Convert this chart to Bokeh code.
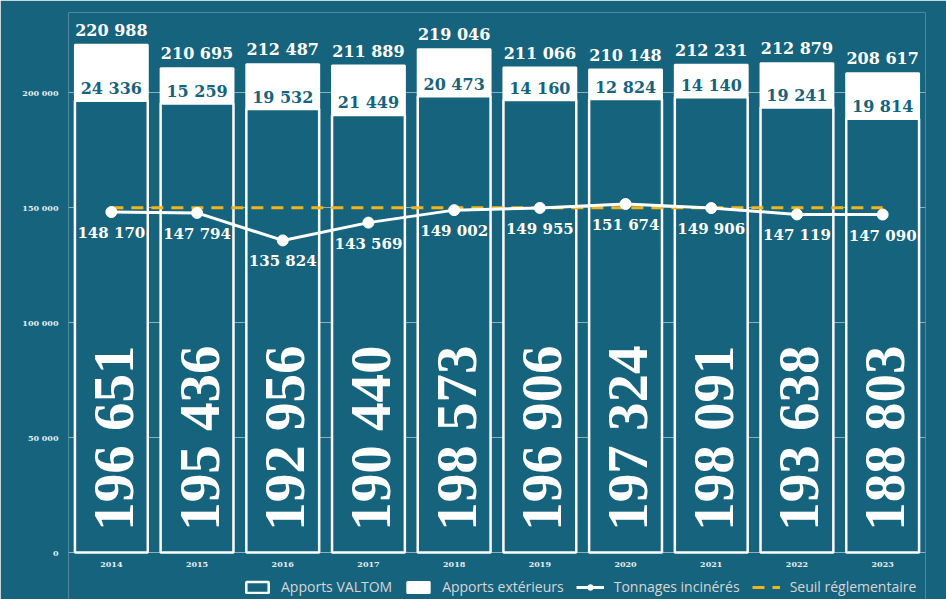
import math
from bokeh.plotting import figure
from bokeh.models import (FactorRange, Range1d, ColumnDataSource, FixedTicker,
                          CustomJSTickFormatter, Legend, LegendItem)
from bokeh.core.properties import value
from bokeh.embed import file_html
from bokeh.resources import INLINE

years = ["2014", "2015", "2016", "2017", "2018", "2019", "2020", "2021", "2022", "2023"]
apports_valtom = [196651, 195436, 192956, 190440, 198573, 196906, 197324, 198091, 193638, 188803]
apports_ext = [24336, 15259, 19532, 21449, 20473, 14160, 12824, 14140, 19241, 19814]
totaux = [220988, 210695, 212487, 211889, 219046, 211066, 210148, 212231, 212879, 208617]
tonnages_incineres = [148170, 147794, 135824, 143569, 149002, 149955, 151674, 149906, 147119, 147090]
seuil = 150000
y_ticks = [0, 50000, 100000, 150000, 200000]

TEAL = "#16637D"
ORANGE = "#F4B418"
SERIF = value("DejaVu Serif")
BIG_SERIF = value("Liberation Serif")


def fmt(v):
    return f"{v:,}".replace(",", " ")


src = ColumnDataSource(dict(
    year=years,
    valtom=apports_valtom,
    ext=apports_ext,
    total=totaux,
    top=[a + b for a, b in zip(apports_valtom, apports_ext)],
    incin=tonnages_incineres,
    seuil=[seuil] * len(years),
    valtom_lbl=[fmt(v) for v in apports_valtom],
    ext_lbl=[fmt(v) for v in apports_ext],
    total_lbl=[fmt(v) for v in totaux],
    incin_lbl=[fmt(v) for v in tonnages_incineres],
    base=[0] * len(years),
))

# frame spans down to the bottom of the figure; 0 sits 47px above the bottom
p = figure(frame_width=857, frame_height=587, x_range=FactorRange(*years, range_padding=0),
           y_range=Range1d(-20435, 235000), output_backend="svg", toolbar_location=None,
           background_fill_color=TEAL, border_fill_color=TEAL,
           min_border_left=68, min_border_right=21, min_border_top=12, min_border_bottom=0)
p.outline_line_color = None

# bars
r_ext = p.vbar(x="year", bottom="valtom", top="top", width=0.85, source=src,
               fill_color="white", line_color="white", line_width=2)
r_val = p.vbar(x="year", bottom="base", top="valtom", width=0.85, source=src,
               fill_color=TEAL, line_color="white", line_width=2.5)

# labels
p.text(x="year", y="total", text="total_lbl", source=src, text_align="center",
       text_baseline="bottom", y_offset=-5, text_font=SERIF, text_font_style="bold",
       text_font_size="16px", text_color="white")
p.text(x="year", y="valtom", text="ext_lbl", source=src, text_align="center",
       text_baseline="middle", y_offset=-12, text_font=SERIF, text_font_style="bold",
       text_font_size="16px", text_color=TEAL)
p.text(x="year", y=9500, text="valtom_lbl", source=src, text_align="left",
       text_baseline="middle", angle=math.pi / 2, x_offset=2,
       text_font=BIG_SERIF, text_font_style="bold", text_font_size="57px",
       text_color="white")

# threshold and line
r_seuil = p.line(x="year", y="seuil", source=src, line_color=ORANGE, line_width=3,
                 line_dash="12 8")
r_line = p.line(x="year", y="incin", source=src, line_color="white", line_width=3)
r_pts = p.scatter(x="year", y="incin", source=src, size=11, fill_color="white",
                  line_color="white")
p.text(x="year", y="incin", text="incin_lbl", source=src, text_align="center",
       text_baseline="top", y_offset=12, text_font=SERIF, text_font_style="bold",
       text_font_size="15px", text_color="white")

# axes & grid
p.xaxis.fixed_location = 0
p.yaxis.ticker = FixedTicker(ticks=y_ticks)
p.yaxis.formatter = CustomJSTickFormatter(
    code='return tick.toString().replace(/\\B(?=(\\d{3})+(?!\\d))/g, " ");')
for ax in (p.xaxis, p.yaxis):
    ax.axis_line_color = None
    ax.major_tick_line_color = None
    ax.minor_tick_line_color = None
    ax.major_tick_out = 0
    ax.major_tick_in = 0
    ax.major_label_text_font = "DejaVu Serif"
    ax.major_label_text_font_style = "bold"
    ax.major_label_text_font_size = "8px"
    ax.major_label_text_color = "#e6eef1"
p.yaxis.major_label_standoff = 10
p.xaxis.major_label_standoff = 9
p.xgrid.grid_line_color = None
p.ygrid.ticker = FixedTicker(ticks=y_ticks)
p.ygrid.grid_line_color = "white"
p.ygrid.grid_line_alpha = 0.5
p.ygrid.grid_line_width = 1

legend = Legend(items=[
    LegendItem(label="Apports VALTOM", renderers=[r_val]),
    LegendItem(label="Apports extérieurs", renderers=[r_ext]),
    LegendItem(label="Tonnages incinérés", renderers=[r_line, r_pts]),
    LegendItem(label="Seuil réglementaire", renderers=[r_seuil]),
], orientation="horizontal", location=(175, 3),
    background_fill_alpha=0, border_line_color=None,
    label_text_font="Open Sans", label_text_font_size="14px", label_text_color="#d6d6d6",
    glyph_width=28, glyph_height=14, label_standoff=10, spacing=12,
    padding=0, margin=0, label_height=16)
p.add_layout(legend)

open("out.html", "w").write(file_html(p, INLINE))
